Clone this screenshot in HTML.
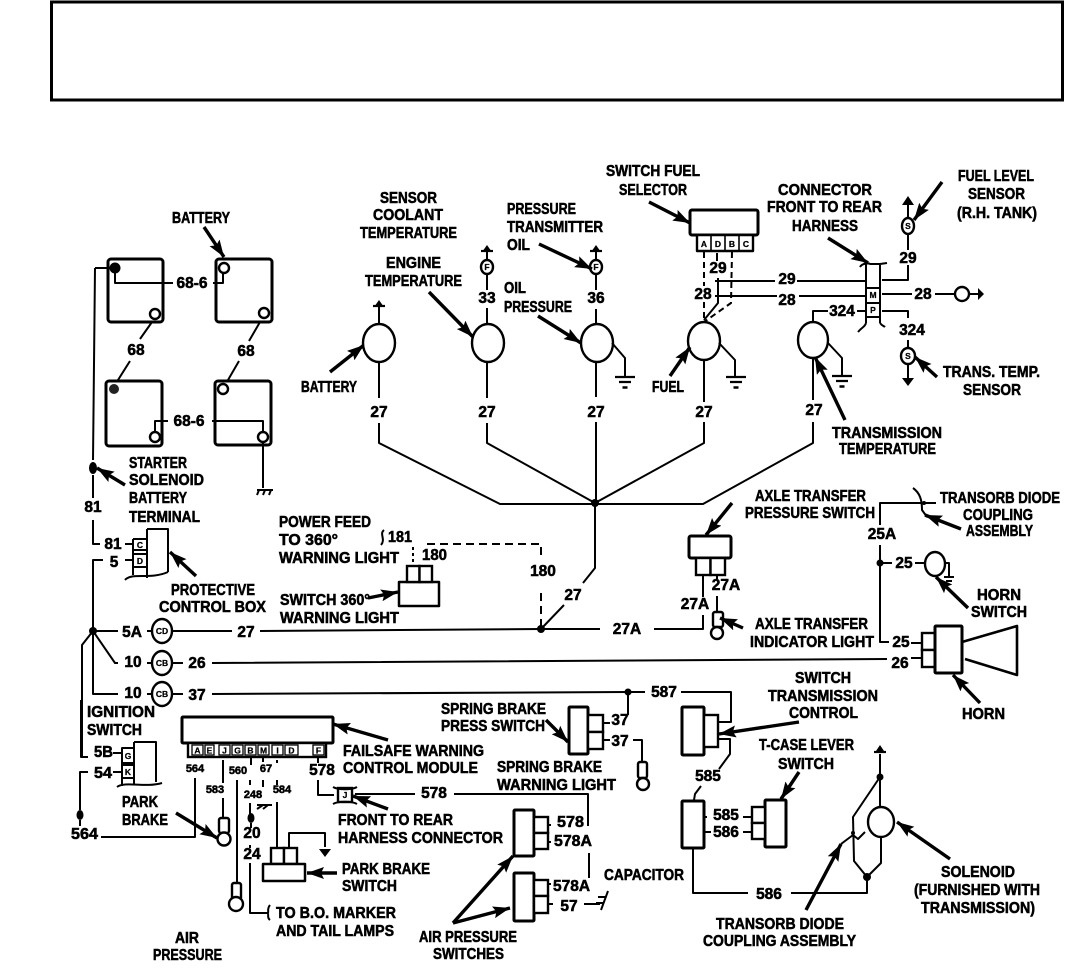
<!DOCTYPE html>
<html><head><meta charset="utf-8"><style>
html,body{margin:0;padding:0;background:#fff;width:1069px;height:968px;overflow:hidden}
svg{display:block}
text{font-family:"Liberation Sans",sans-serif;font-weight:700;font-size:15.5px;fill:#000;stroke:#000;stroke-width:.55px}
.m{text-anchor:middle}
.n{font-size:15.5px;text-anchor:middle}
.s{font-size:8.5px;text-anchor:middle;stroke-width:.25px}
.t{font-size:11px;text-anchor:middle}
.w{fill:none;stroke:#000;stroke-width:2;stroke-linejoin:round}
.b{fill:#fff;stroke:#000;stroke-width:3;stroke-linejoin:round}
.c{fill:#fff;stroke:#000;stroke-width:2.4}
.a{fill:none;stroke:#000;stroke-width:3.4;marker-end:url(#ah)}
.d{stroke-dasharray:8 5}
</style></head><body>
<svg width="1069" height="968" viewBox="0 0 1069 968" xmlns="http://www.w3.org/2000/svg">
<defs>
<marker id="ah" markerUnits="userSpaceOnUse" markerWidth="18" markerHeight="12" refX="17" refY="6" orient="auto"><path d="M0,0 L17,6 L0,12 L3,6z" fill="#000"/></marker>
<g id="gu"><path d="M-6,0H6" stroke="#000" stroke-width="2.2"/><path d="M-3.5,-1L0,-6L3.5,-1z" fill="#000"/></g>
<g id="gd"><path d="M-10,0H10M-6,5H6" stroke="#000" stroke-width="2.2"/><path d="M-2.5,10.5H2.5" stroke="#000" stroke-width="2.5"/></g>
</defs>
<rect x="51.5" y="2" width="1011" height="98" fill="#fff" stroke="#000" stroke-width="3"/>

<!-- batteries -->
<rect class="b" x="108" y="259" width="55" height="63" rx="3"/>
<rect class="b" x="216" y="259" width="56" height="63" rx="3"/>
<rect class="b" x="106" y="381" width="56" height="65" rx="3"/>
<rect class="b" x="215" y="381" width="56" height="64" rx="3"/>
<path class="w" d="M115,268V283H173M213,283H223V272M152,322L140,339M130,361L118,380M260,322L249,341M239,361L228,380M168,421H155V433M212,421H263V432M263,442V488M95,268H113M95,268L93,460M93,475V498M93,520V544H100M125,544H133"/>
<circle cx="115" cy="268" r="5.5" fill="#000"/><circle class="c" cx="155" cy="314" r="5"/><circle class="c" cx="224" cy="268" r="5"/><circle class="c" cx="264" cy="313" r="5"/><circle cx="114" cy="389" r="5" fill="#222"/><circle class="c" cx="155" cy="437" r="5"/><circle class="c" cx="223" cy="389" r="5"/><circle class="c" cx="263" cy="437" r="5"/>
<ellipse cx="93" cy="468" rx="4" ry="6" fill="#000"/>
<path class="w" d="M257,490H273M259,490L257,495M265,490L263,495M271,490L269,495"/>
<text class="n" x="192" y="288">68-6</text><text class="n" x="189" y="426">68-6</text><text class="n" x="136" y="355">68</text><text class="n" x="246" y="356">68</text><text class="n" x="93" y="512">81</text><text class="n" x="113" y="549">81</text><text class="n" x="114" y="567">5</text>
<text x="172" y="223" textLength="58" lengthAdjust="spacingAndGlyphs">BATTERY</text>
<text x="301" y="392" textLength="56" lengthAdjust="spacingAndGlyphs">BATTERY</text>
<text x="129" y="468" textLength="58" lengthAdjust="spacingAndGlyphs">STARTER</text>
<text x="129" y="485" textLength="75" lengthAdjust="spacingAndGlyphs">SOLENOID</text>
<text x="129" y="503" textLength="58" lengthAdjust="spacingAndGlyphs">BATTERY</text>
<text x="129" y="522" textLength="71" lengthAdjust="spacingAndGlyphs">TERMINAL</text>
<path class="a" d="M204,227L224,257"/><path class="a" d="M125,485L97,468"/><path class="a" d="M330,372L364,345"/>

<!-- protective box -->
<path class="w" d="M147,529H168V572M147,529V578M133,539V575M133,539H147M133,550H147M133,554H147M133,567H147M125,580C132,572 150,580 168,572"/>
<text class="s" x="140" y="548">C</text><text class="s" x="140" y="564">D</text>
<path class="w" d="M103,560H93V694H118M93,631H118M93,631L115,663H118M93,631L82,645V757H88M125,560H133"/>
<circle cx="93" cy="631" r="4" fill="#000"/>
<text x="171" y="595" textLength="84" lengthAdjust="spacingAndGlyphs">PROTECTIVE</text>
<text x="159" y="612" textLength="107" lengthAdjust="spacingAndGlyphs">CONTROL BOX</text>
<path class="a" d="M196,576L170,552"/>
<text class="n" x="132" y="637">5A</text><text class="n" x="133" y="667">10</text><text class="n" x="133" y="698">10</text><text class="n" x="197" y="668">26</text><text class="n" x="197" y="700">37</text><text class="n" x="246" y="637">27</text>
<path class="w" d="M147,631H152M172,631H232M260,631L541,629H600M654,629H703V615M147,663H152M172,663H183M212,663L887,659M911,658H922M147,694H152M172,694H183M212,694L628,692H645"/>
<ellipse class="c" cx="162" cy="631" rx="10" ry="12"/><ellipse class="c" cx="162" cy="663" rx="10" ry="12"/><ellipse class="c" cx="162" cy="694" rx="10" ry="12"/>
<text class="s" x="162" y="634">CD</text><text class="s" x="162" y="666">CB</text><text class="s" x="162" y="697">CB</text>

<!-- power feed -->
<text x="279" y="527" textLength="92" lengthAdjust="spacingAndGlyphs">POWER FEED</text>
<text x="279" y="545" textLength="59" lengthAdjust="spacingAndGlyphs">TO 360°</text>
<text x="279" y="563" textLength="120" lengthAdjust="spacingAndGlyphs">WARNING LIGHT</text>
<text x="280" y="605" textLength="90" lengthAdjust="spacingAndGlyphs">SWITCH 360°</text>
<text x="280" y="623" textLength="119" lengthAdjust="spacingAndGlyphs">WARNING LIGHT</text>
<text x="388" y="542" textLength="24" lengthAdjust="spacingAndGlyphs">181</text>
<text x="422" y="560" textLength="25" lengthAdjust="spacingAndGlyphs">180</text>
<path class="w" d="M384,530C379,534 386,539 381,545"/>
<path class="w" d="M413,547V565" stroke-dasharray="3 3"/>
<path class="w d" d="M427,544H541V557M541,593V627"/>
<text class="n" x="543" y="576">180</text>
<rect class="b" x="399" y="582" width="40" height="24" style="stroke-width:2.5"/>
<rect class="c" x="407" y="566" width="12.5" height="16"/><rect class="c" x="419.5" y="566" width="12.5" height="16"/>
<path class="a" d="M368,598L398,592"/>
<circle cx="541" cy="629" r="4" fill="#000"/>

<!-- gauges -->
<path class="w" d="M379,323V307M379,362V398M379,423V443L500,504H703L813,443V422M487,325V308M487,290V273M487,262V252M487,362V398M487,423V443L595,503M596,325V309M596,290V273M596,262V252M596,362V397M596,422V503M704,360V402M704,422V443L595,503M813,358V400M595,503V568L583,583M564,605L541,629"/>
<circle cx="595" cy="503" r="4" fill="#000"/>
<ellipse class="c" cx="379" cy="343" rx="16" ry="19"/><ellipse class="c" cx="488" cy="343" rx="16" ry="19"/><ellipse class="c" cx="597" cy="343" rx="16" ry="19"/><ellipse class="c" cx="704" cy="341" rx="16" ry="19"/><ellipse class="c" cx="813" cy="340" rx="15" ry="18"/>
<use href="#gu" x="379" y="306"/><use href="#gu" x="487" y="251"/><use href="#gu" x="596" y="251"/>
<ellipse class="c" cx="487" cy="267" rx="6" ry="7"/><ellipse class="c" cx="596" cy="267" rx="6" ry="7"/>
<text class="s" x="487" y="270">F</text><text class="s" x="596" y="270">F</text>
<text class="n" x="379" y="417">27</text><text class="n" x="487" y="417">27</text><text class="n" x="596" y="417">27</text><text class="n" x="704" y="417">27</text><text class="n" x="814" y="415">27</text><text class="n" x="487" y="303">33</text><text class="n" x="596" y="303">36</text><text class="n" x="573" y="600">27</text>
<path class="w" d="M612,343L625,358V377M719,343L735,360V377M828,343L842,358V375"/>
<use href="#gd" x="625" y="377"/><use href="#gd" x="736" y="377"/><use href="#gd" x="842" y="376"/>
<text x="380" y="203" textLength="57" lengthAdjust="spacingAndGlyphs">SENSOR</text>
<text x="373" y="220" textLength="70" lengthAdjust="spacingAndGlyphs">COOLANT</text>
<text x="360" y="238" textLength="97" lengthAdjust="spacingAndGlyphs">TEMPERATURE</text>
<text x="386" y="268" textLength="55" lengthAdjust="spacingAndGlyphs">ENGINE</text>
<text x="365" y="286" textLength="97" lengthAdjust="spacingAndGlyphs">TEMPERATURE</text>
<text x="507" y="214" textLength="69" lengthAdjust="spacingAndGlyphs">PRESSURE</text>
<text x="507" y="232" textLength="96" lengthAdjust="spacingAndGlyphs">TRANSMITTER</text>
<text x="507" y="250" textLength="23" lengthAdjust="spacingAndGlyphs">OIL</text>
<text x="504" y="293" textLength="22" lengthAdjust="spacingAndGlyphs">OIL</text>
<text x="504" y="312" textLength="68" lengthAdjust="spacingAndGlyphs">PRESSURE</text>
<text x="652" y="392" textLength="32" lengthAdjust="spacingAndGlyphs">FUEL</text>
<text x="606" y="176" textLength="94" lengthAdjust="spacingAndGlyphs">SWITCH FUEL</text>
<text x="619" y="195" textLength="68" lengthAdjust="spacingAndGlyphs">SELECTOR</text>
<path class="a" d="M429,292L473,337"/><path class="a" d="M538,316L581,343"/><path class="a" d="M539,244L592,269"/><path class="a" d="M649,202L690,223"/><path class="a" d="M670,376L690,347"/>

<!-- selector + connector -->
<rect class="b" x="690" y="210" width="68" height="25" rx="2"/>
<rect class="b" x="697" y="235" width="56" height="16" style="stroke-width:2.4"/>
<path class="w" d="M711,235V251M725,235V251M739,235V251" style="stroke-width:1.6"/>
<text class="s" x="704" y="247">A</text><text class="s" x="718" y="247">D</text><text class="s" x="732" y="247">B</text><text class="s" x="746" y="247">C</text>
<path class="w d" d="M704,252V286M704,302V320M732,252L731,303L704,322" style="stroke-dasharray:6 4"/>
<path class="w" d="M717,253V261M718,278V303L704,320M715,281H775M797,281H865M715,296H777M799,296H865M813,322V311H828M857,311H865M882,280H908V265M882,294H912M935,294H955M969,294H978M882,311H908V318M908,340V349M908,250V233M908,218V205M908,363V380"/>
<text class="n" x="718" y="273">29</text><text class="n" x="703" y="299">28</text><text class="n" x="787" y="284">29</text><text class="n" x="787" y="305">28</text><text class="n" x="842" y="316">324</text><text class="n" x="908" y="263">29</text><text class="n" x="923" y="299">28</text><text class="n" x="912" y="335">324</text>
<path class="w" d="M866,264V323M880,264V323M866,288H880M866,303H880M866,317H880M860,267C862,263 870,263 870,264H880L887,263M858,332C862,327 865,327 866,323M880,323C882,326 884,326 885,327"/>
<text class="s" x="873" y="298">M</text><text class="s" x="873" y="313">P</text>
<ellipse class="c" cx="908" cy="226" rx="6" ry="8"/><ellipse class="c" cx="908" cy="356" rx="7" ry="8"/><ellipse class="c" cx="962" cy="294" rx="7" ry="7"/>
<text class="s" x="908" y="229">S</text><text class="s" x="908" y="359">S</text>
<path d="M908,196L914,205H902zM908,386L914,378H902zM984,294L978,288V300z" fill="#000"/>
<text x="778" y="195" textLength="94" lengthAdjust="spacingAndGlyphs">CONNECTOR</text>
<text x="767" y="212" textLength="115" lengthAdjust="spacingAndGlyphs">FRONT TO REAR</text>
<text x="792" y="231" textLength="66" lengthAdjust="spacingAndGlyphs">HARNESS</text>
<text x="958" y="181" textLength="76" lengthAdjust="spacingAndGlyphs">FUEL LEVEL</text>
<text x="968" y="199" textLength="57" lengthAdjust="spacingAndGlyphs">SENSOR</text>
<text x="957" y="218" textLength="80" lengthAdjust="spacingAndGlyphs">(R.H. TANK)</text>
<text x="943" y="377" textLength="97" lengthAdjust="spacingAndGlyphs">TRANS. TEMP.</text>
<text x="963" y="395" textLength="58" lengthAdjust="spacingAndGlyphs">SENSOR</text>
<text x="832" y="438" textLength="110" lengthAdjust="spacingAndGlyphs">TRANSMISSION</text>
<text x="839" y="454" textLength="97" lengthAdjust="spacingAndGlyphs">TEMPERATURE</text>
<path class="a" d="M828,238L868,263"/><path class="a" d="M942,182L914,220"/><path class="a" d="M937,377L915,357"/><path class="a" d="M845,420L815,357"/>

<!-- axle transfer -->
<rect class="b" x="689" y="536" width="42" height="22" rx="2"/>
<rect class="c" x="696" y="558" width="14.5" height="17"/><rect class="c" x="710.5" y="558" width="14.5" height="17"/>
<path class="w" d="M703,575V597M717,575V579M717,596V612"/>
<rect class="c" x="713" y="612" width="10" height="15" rx="2"/><circle class="c" cx="717" cy="633" r="6"/>
<text class="n" x="627" y="634">27A</text><text class="n" x="695" y="609">27A</text><text class="n" x="726" y="590">27A</text>
<text x="755" y="501" textLength="111" lengthAdjust="spacingAndGlyphs">AXLE TRANSFER</text>
<text x="745" y="518" textLength="130" lengthAdjust="spacingAndGlyphs">PRESSURE SWITCH</text>
<text x="755" y="629" textLength="113" lengthAdjust="spacingAndGlyphs">AXLE TRANSFER</text>
<text x="750" y="647" textLength="124" lengthAdjust="spacingAndGlyphs">INDICATOR LIGHT</text>
<path class="a" d="M732,503L706,535"/><path class="a" d="M743,628L720,618"/>

<!-- horn -->
<path class="w" d="M880,525V503H936M880,545V642H889M880,563H892M915,563H925M911,643H922M913,488C920,493 922,500 922,510L927,517M944,563H949V577"/>
<circle cx="880" cy="563" r="3.5" fill="#000"/><circle cx="924" cy="503" r="2" fill="#000"/>
<ellipse class="c" cx="935" cy="564" rx="10" ry="12"/>
<path d="M944,577H954M946,581H952" stroke="#000" stroke-width="2"/>
<rect class="c" x="922" y="633" width="13" height="17"/><rect class="c" x="922" y="650" width="13" height="17"/>
<rect class="b" x="935" y="626" width="27" height="47" rx="1"/>
<path class="b" d="M962,642L1017,626V675L965,659" style="stroke-width:2.6;fill:none"/>
<text class="n" x="882" y="539">25A</text><text class="n" x="904" y="568">25</text><text class="n" x="901" y="647">25</text><text class="n" x="900" y="668">26</text>
<text x="940" y="503" textLength="120" lengthAdjust="spacingAndGlyphs">TRANSORB DIODE</text>
<text x="963" y="520" textLength="70" lengthAdjust="spacingAndGlyphs">COUPLING</text>
<text x="966" y="536" textLength="67" lengthAdjust="spacingAndGlyphs">ASSEMBLY</text>
<text x="977" y="600" textLength="44" lengthAdjust="spacingAndGlyphs">HORN</text>
<text x="971" y="617" textLength="56" lengthAdjust="spacingAndGlyphs">SWITCH</text>
<text x="962" y="719" textLength="43" lengthAdjust="spacingAndGlyphs">HORN</text>
<path class="a" d="M961,529L925,515"/><path class="a" d="M968,608L936,577"/><path class="a" d="M980,703L953,675"/>

<!-- transmission control -->
<circle cx="628" cy="692" r="3.5" fill="#000"/>
<path class="w" d="M681,692H731V722H719M628,692V715M610,723H603M610,740H603M633,740H642V762M718,739H730V754L719,769M701,786L695,794L694,800M693,848V893H748M791,893H867V881M704,817H707M704,832H711M743,817H752M743,832H752"/>
<text class="n" x="664" y="697">587</text><text class="n" x="620" y="725">37</text><text class="n" x="620" y="746">37</text><text class="n" x="708" y="781">585</text><text class="n" x="726" y="820">585</text><text class="n" x="726" y="837">586</text><text class="n" x="769" y="899">586</text>
<rect class="b" x="569" y="707" width="19" height="47" rx="1"/>
<rect class="c" x="588" y="715" width="15" height="17"/><rect class="c" x="588" y="732" width="15" height="17"/>
<rect class="c" x="638" y="762" width="9" height="16" rx="2"/><circle class="c" cx="643" cy="784" r="6"/>
<rect class="b" x="682" y="707" width="22" height="48" rx="1"/>
<rect class="c" x="704" y="715" width="14" height="32"/>
<rect class="b" x="682" y="801" width="22" height="47" rx="1"/>
<rect class="b" x="765" y="800" width="21" height="47" rx="1"/>
<rect class="c" x="752" y="807" width="13" height="16"/><rect class="c" x="752" y="823" width="13" height="16"/>
<text x="795" y="683" textLength="56" lengthAdjust="spacingAndGlyphs">SWITCH</text>
<text x="768" y="701" textLength="110" lengthAdjust="spacingAndGlyphs">TRANSMISSION</text>
<text x="789" y="718" textLength="69" lengthAdjust="spacingAndGlyphs">CONTROL</text>
<text x="759" y="750" textLength="95" lengthAdjust="spacingAndGlyphs">T-CASE LEVER</text>
<text x="778" y="769" textLength="56" lengthAdjust="spacingAndGlyphs">SWITCH</text>
<text x="441" y="714" textLength="105" lengthAdjust="spacingAndGlyphs">SPRING BRAKE</text>
<text x="441" y="731" textLength="104" lengthAdjust="spacingAndGlyphs">PRESS SWITCH</text>
<text x="497" y="772" textLength="105" lengthAdjust="spacingAndGlyphs">SPRING BRAKE</text>
<text x="497" y="790" textLength="119" lengthAdjust="spacingAndGlyphs">WARNING LIGHT</text>
<path class="a" d="M546,720L568,742"/><path class="a" d="M799,722L719,734"/><path class="a" d="M799,772L781,799"/>

<!-- solenoid -->
<path class="w" d="M867,881V877L854,861L853,817L880,777V754M880,777V807M881,836V863L867,877M841,844L853,835L858,839L865,832"/>
<path d="M874,752H886" stroke="#000" stroke-width="2.2"/><path d="M876,751L880,745L884,751z" fill="#000"/>
<circle cx="880" cy="777" r="3.5" fill="#000"/><circle cx="867" cy="877" r="4" fill="#000"/><circle cx="853" cy="833" r="2" fill="#000"/>
<ellipse class="c" cx="881" cy="822" rx="13" ry="15"/>
<text x="941" y="877" textLength="74" lengthAdjust="spacingAndGlyphs">SOLENOID</text>
<text x="914" y="895" textLength="126" lengthAdjust="spacingAndGlyphs">(FURNISHED WITH</text>
<text x="921" y="913" textLength="114" lengthAdjust="spacingAndGlyphs">TRANSMISSION)</text>
<text x="716" y="929" textLength="128" lengthAdjust="spacingAndGlyphs">TRANSORB DIODE</text>
<text x="703" y="946" textLength="153" lengthAdjust="spacingAndGlyphs">COUPLING ASSEMBLY</text>
<path class="a" d="M950,859L897,822"/><path class="a" d="M806,910L841,844"/>

<!-- air switches -->
<rect class="b" x="514" y="810" width="20" height="46" rx="1"/>
<rect class="c" x="534" y="817" width="14" height="16"/><rect class="c" x="534" y="833" width="14" height="16"/>
<rect class="b" x="514" y="873" width="20" height="48" rx="1"/>
<rect class="c" x="534" y="880" width="14" height="16"/><rect class="c" x="534" y="896" width="14" height="17"/>
<text x="557" y="827" textLength="27" lengthAdjust="spacingAndGlyphs">578</text>
<text x="554" y="846" textLength="38" lengthAdjust="spacingAndGlyphs">578A</text>
<text x="553" y="891" textLength="37" lengthAdjust="spacingAndGlyphs">578A</text>
<text class="n" x="569" y="911">57</text>
<path class="w" d="M454,794H588V826M589,853V878M548,825H551M548,842H551M548,884H551M548,904H553M584,904H600M608,891L601,910M598,897L606,897M596,903L604,903"/>
<text x="604" y="880" textLength="80" lengthAdjust="spacingAndGlyphs">CAPACITOR</text>
<text x="419" y="942" textLength="98" lengthAdjust="spacingAndGlyphs">AIR PRESSURE</text>
<text x="433" y="959" textLength="71" lengthAdjust="spacingAndGlyphs">SWITCHES</text>
<path class="a" d="M453,923L513,856"/><path class="a" d="M453,923L510,908"/>

<!-- failsafe module -->
<rect class="b" x="182" y="717" width="151" height="26" rx="1"/>
<rect class="c" x="188" y="743" width="138" height="14"/>
<g fill="#fff" stroke="#000" stroke-width="1.3"><rect x="192" y="745" width="11" height="10"/><rect x="205" y="745" width="9" height="10"/><rect x="219" y="745" width="11" height="10"/><rect x="232" y="745" width="11" height="10"/><rect x="245" y="745" width="11" height="10"/><rect x="258" y="745" width="11" height="10"/><rect x="272" y="745" width="11" height="10"/><rect x="285" y="745" width="13" height="10"/><rect x="313" y="745" width="11" height="10"/></g>
<text class="s" x="197.500" y="753.500">A</text><text class="s" x="209.500" y="753.500">E</text><text class="s" x="224.500" y="753.500">J</text><text class="s" x="237.500" y="753.500">G</text><text class="s" x="250.500" y="753.500">B</text><text class="s" x="263.500" y="753.500">M</text><text class="s" x="277.500" y="753.500">I</text><text class="s" x="291.500" y="753.500">D</text><text class="s" x="318.500" y="753.500">F</text>
<text class="t" x="195" y="772">564</text><text class="t" x="238" y="774">560</text><text class="t" x="266" y="772">67</text><text class="t" x="215" y="793">583</text><text class="t" x="253" y="798">248</text><text class="t" x="282" y="793">584</text>
<text class="n" x="322" y="775">578</text><text class="n" x="434" y="798">578</text><text class="n" x="252" y="838">20</text><text class="n" x="252" y="859">24</text>
<path class="w" d="M195,778V837H101M223,760V783M223,798V817M237,780V882M251,758V765M250,780V785M263,780V787M263,758V762M277,760V763M277,780V785M277,802V847M257,805H272M263,805L257,809M268,805L263,809M250,803V815M251,823V828M250,845V848M250,863V913H267M289,847V833H325V847M318,757V763M318,780V795H334M355,794H415M81,700V757H88M88,772H80V810M80,820V826"/>
<ellipse cx="251" cy="818" rx="3.500" ry="5" fill="#000"/><ellipse cx="80" cy="815" rx="3.500" ry="5" fill="#000"/>
<path d="M319,849H331L325,857z" fill="#000"/>
<rect class="c" x="219" y="818" width="10" height="15" rx="2"/><circle class="c" cx="224" cy="839" r="6.5"/>
<rect class="c" x="232" y="883" width="9" height="17" rx="2"/><circle class="c" cx="236" cy="904" r="7"/>
<rect class="c" x="271" y="848" width="13" height="16"/><rect class="c" x="284" y="848" width="13" height="16"/>
<rect class="b" x="263" y="864" width="42" height="17" style="stroke-width:2.5"/>
<path class="w" d="M270,905C266,910 270,913 267,913C270,914 266,917 270,920"/>
<rect class="c" x="338" y="788" width="14" height="14"/><text class="s" x="345" y="798">J</text>
<path class="w" d="M333,787C338,790 352,790 357,787M333,804C338,801 352,801 357,804"/>
<text x="71" y="839" textLength="27" lengthAdjust="spacingAndGlyphs">564</text>
<text x="87" y="717" textLength="68" lengthAdjust="spacingAndGlyphs">IGNITION</text>
<text x="87" y="735" textLength="55" lengthAdjust="spacingAndGlyphs">SWITCH</text>
<text x="94" y="757" textLength="19" lengthAdjust="spacingAndGlyphs">5B</text>
<text x="94" y="778" textLength="18" lengthAdjust="spacingAndGlyphs">54</text>
<path class="w" d="M113,753H122M113,772H122M134,742H156V782M134,742V785M122,748H134V763H122zM122,765H134V778H122zM122,748V786M117,787C125,781 145,788 162,783"/>
<text class="s" x="128" y="759">G</text><text class="s" x="128" y="775">K</text>
<text x="122" y="807" textLength="36" lengthAdjust="spacingAndGlyphs">PARK</text>
<text x="122" y="825" textLength="46" lengthAdjust="spacingAndGlyphs">BRAKE</text>
<text x="343" y="756" textLength="141" lengthAdjust="spacingAndGlyphs">FAILSAFE WARNING</text>
<text x="343" y="773" textLength="135" lengthAdjust="spacingAndGlyphs">CONTROL MODULE</text>
<text x="338" y="825" textLength="115" lengthAdjust="spacingAndGlyphs">FRONT TO REAR</text>
<text x="338" y="843" textLength="165" lengthAdjust="spacingAndGlyphs">HARNESS CONNECTOR</text>
<text x="342" y="874" textLength="88" lengthAdjust="spacingAndGlyphs">PARK BRAKE</text>
<text x="342" y="891" textLength="55" lengthAdjust="spacingAndGlyphs">SWITCH</text>
<text x="276" y="918" textLength="120" lengthAdjust="spacingAndGlyphs">TO B.O. MARKER</text>
<text x="276" y="936" textLength="118" lengthAdjust="spacingAndGlyphs">AND TAIL LAMPS</text>
<text x="175" y="943" textLength="24" lengthAdjust="spacingAndGlyphs">AIR</text>
<text x="153" y="960" textLength="69" lengthAdjust="spacingAndGlyphs">PRESSURE</text>
<path class="a" d="M176,813L217,838"/><path class="a" d="M388,740L333,724"/><path class="a" d="M388,809L353,796"/><path class="a" d="M337,873L307,873"/>
</svg>
</body></html>
